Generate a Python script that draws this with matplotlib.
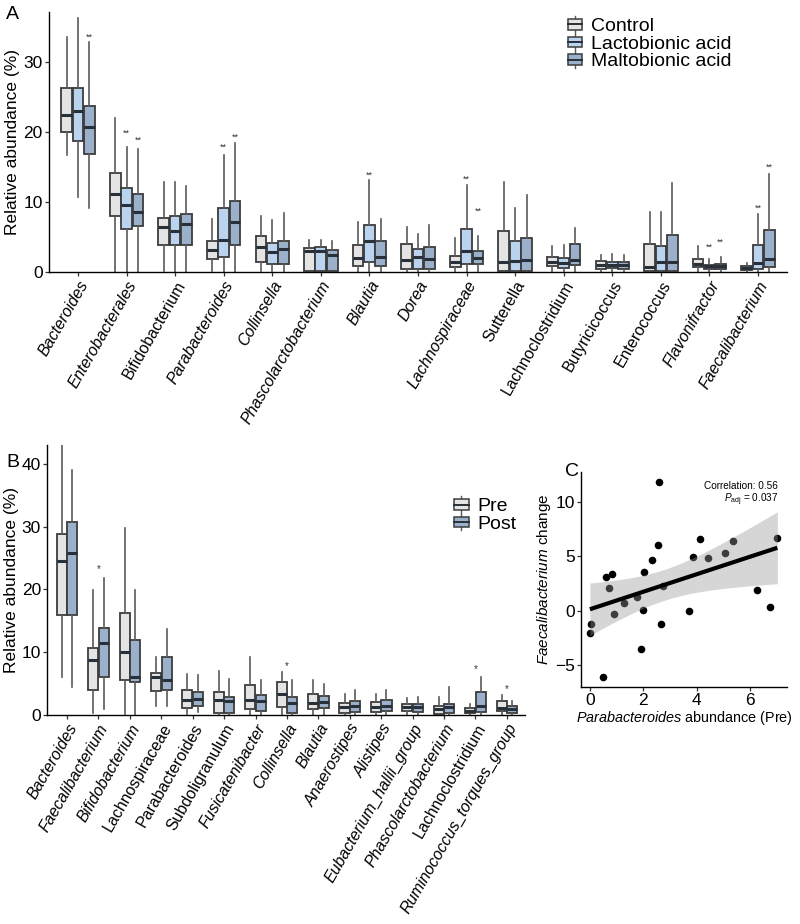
import matplotlib
matplotlib.use('Agg')
import matplotlib.pyplot as plt
import numpy as np
from matplotlib.patches import Patch, Rectangle
from matplotlib.lines import Line2D
from matplotlib.legend_handler import HandlerBase

plt.rcParams['font.family'] = ['Liberation Sans', 'DejaVu Sans']
plt.rcParams['mathtext.fontset'] = 'custom'
plt.rcParams['mathtext.rm'] = 'Liberation Sans'
plt.rcParams['mathtext.it'] = 'Liberation Sans:italic'

# ---------------- Panel A data ----------------
cats_A = ['Bacteroides', 'Enterobacterales', 'Bifidobacterium', 'Parabacteroides', 'Collinsella',
          'Phascolarctobacterium', 'Blautia', 'Dorea', 'Lachnospiraceae', 'Sutterella',
          'Lachnoclostridium', 'Butyricicoccus', 'Enterococcus', 'Flavonifractor', 'Faecalibacterium']
upright_A = {'Bifidobacterium', 'Sutterella', 'Lachnoclostridium', 'Butyricicoccus', 'Enterococcus'}
groups_A = ['Control', 'Lactobionic acid', 'Maltobionic acid']

ctrl_low  = [16.7, 0.0, 0.2, 0.2, 0.2, 0.2, 0.0, 0.0, 0.0, 0.0, 0.0, 0.0, 0.0, 0.0, 0.0]
ctrl_q1   = [20.0, 8.0, 3.8, 1.9, 1.5, 0.2, 0.9, 0.5, 0.7, 0.1, 0.9, 0.5, 0.1, 0.7, 0.3]
ctrl_med  = [22.4, 11.2, 6.4, 3.2, 3.6, 3.0, 2.0, 1.7, 1.4, 1.5, 1.4, 1.0, 0.7, 1.2, 0.6]
ctrl_q3   = [26.3, 14.1, 7.8, 4.4, 5.1, 3.5, 3.8, 4.0, 2.3, 5.9, 2.1, 1.6, 4.0, 1.9, 0.8]
ctrl_high = [33.6, 22.1, 12.9, 7.6, 8.0, 4.6, 7.2, 6.5, 4.8, 12.9, 3.7, 2.4, 8.6, 3.7, 1.3]

lacto_low  = [10.7, 0.0, 0.0, 0.0, 0.2, 0.1, 0.0, 0.0, 0.0, 0.0, 0.0, 0.0, 0.0, 0.0, 0.0]
lacto_q1   = [18.8, 6.2, 3.9, 2.1, 1.1, 0.1, 1.5, 0.5, 1.2, 0.1, 0.6, 0.6, 0.1, 0.5, 0.5]
lacto_med  = [23.0, 9.6, 5.8, 4.6, 2.9, 3.0, 4.5, 2.2, 3.0, 1.6, 1.3, 1.0, 1.4, 0.8, 1.3]
lacto_q3   = [26.3, 12.0, 8.0, 9.1, 4.1, 3.6, 6.7, 3.3, 6.1, 4.5, 2.0, 1.5, 3.7, 1.0, 3.8]
lacto_high = [36.4, 17.9, 12.9, 16.7, 7.4, 4.6, 13.2, 5.5, 12.5, 9.2, 3.8, 2.6, 8.6, 1.8, 8.3]

malto_low  = [9.2, 0.0, 0.0, 0.0, 0.0, 0.2, 0.0, 0.0, 0.0, 0.0, 0.0, 0.0, 0.0, 0.0, 0.0]
malto_q1   = [16.9, 6.6, 3.8, 3.8, 1.1, 0.2, 0.9, 0.4, 1.2, 0.1, 1.0, 0.5, 0.1, 0.5, 0.7]
malto_med  = [20.7, 8.6, 6.9, 7.2, 3.3, 2.4, 2.2, 1.9, 2.0, 1.7, 1.7, 1.0, 1.4, 0.9, 1.9]
malto_q3   = [23.8, 11.1, 8.3, 10.1, 4.5, 3.2, 4.4, 3.6, 3.0, 4.9, 4.0, 1.5, 5.3, 1.2, 6.0]
malto_high = [32.9, 17.6, 12.3, 18.4, 8.4, 4.4, 7.6, 6.7, 5.1, 11.0, 6.3, 2.4, 12.8, 2.2, 14.0]

nan = np.nan
sig_lacto_y = [nan, 19.9, nan, 17.9, nan, nan, 13.9, nan, 13.3, nan, nan, nan, nan, 3.5, 9.1]
sig_malto_y = [33.6, 18.9, nan, 19.3, nan, nan, nan, nan, 8.7, nan, nan, nan, nan, 4.3, 15.0]

# ---------------- Panel B data ----------------
cats_B = ['Bacteroides', 'Faecalibacterium', 'Bifidobacterium', 'Lachnospiraceae', 'Parabacteroides',
          'Subdoligranulum', 'Fusicatenibacter', 'Collinsella', 'Blautia', 'Anaerostipes', 'Alistipes',
          'Eubacterium_hallii_group', 'Phascolarctobacterium', 'Lachnoclostridium',
          'Ruminococcus_torques_group']
upright_B = {'Lachnospiraceae', 'Parabacteroides', 'Subdoligranulum', 'Lachnoclostridium'}
groups_B = ['Pre', 'Post']

pre_low  = [6.0, 0.3, 0.2, 1.5, 0.2, 0.0, 0.0, 0.0, 0.0, 0.0, 0.0, 0.0, 0.0, 0.0, 0.0]
pre_q1   = [16.0, 4.0, 5.6, 3.9, 1.1, 0.3, 0.9, 1.2, 0.9, 0.3, 0.5, 0.6, 0.1, 0.3, 0.6]
pre_med  = [24.5, 8.8, 10.1, 6.0, 2.4, 2.4, 2.4, 3.4, 1.9, 1.2, 1.2, 1.3, 1.0, 0.7, 1.1]
pre_q3   = [28.9, 10.7, 16.2, 6.7, 4.0, 3.7, 4.8, 5.3, 3.4, 1.9, 2.0, 1.8, 1.5, 1.1, 2.3]
pre_high = [44.0, 19.9, 29.8, 9.2, 6.5, 7.0, 9.2, 6.9, 5.5, 3.3, 3.3, 2.7, 2.9, 1.7, 3.2]

post_low  = [4.4, 0.9, 0.0, 1.5, 0.5, 0.0, 0.0, 0.0, 0.0, 0.0, 0.0, 0.0, 0.0, 0.0, 0.0]
post_q1   = [16.0, 6.0, 5.2, 4.0, 1.5, 0.3, 0.7, 0.3, 1.1, 0.5, 0.7, 0.5, 0.3, 0.5, 0.3]
post_med  = [25.8, 11.4, 6.0, 5.6, 2.6, 2.2, 2.3, 1.9, 2.1, 1.5, 1.5, 1.3, 1.2, 1.5, 1.0]
post_q3   = [30.7, 13.9, 12.0, 9.2, 3.7, 2.8, 3.2, 2.9, 3.1, 2.2, 2.4, 1.8, 1.7, 3.7, 1.5]
post_high = [39.0, 21.8, 19.9, 13.7, 6.3, 5.8, 5.5, 5.5, 5.0, 4.0, 4.0, 2.8, 4.5, 6.0, 2.3]

sig_B_y = [nan, 23.2, nan, nan, nan, nan, nan, 7.8, nan, nan, nan, nan, nan, 7.3, 4.2]

# ---------------- Panel C data ----------------
para_pre = [0.00, 0.04, 0.50, 0.60, 0.81, 0.73, 0.89, 1.26, 1.78, 1.93, 2.00, 2.04, 2.33,
            2.53, 2.58, 2.66, 2.75, 3.71, 3.85, 4.10, 4.40, 5.05, 5.35, 6.25, 6.73, 7.01]
faec_change = [-2.06, -1.20, -6.10, 3.13, 3.34, 2.09, -0.31, 0.74, 1.29, -3.53, 0.06, 3.59, 4.66,
               6.04, 11.87, -1.17, 2.24, 0.00, 4.91, 6.56, 4.85, 5.28, 6.44, 1.90, 0.37, 6.69]
corr_text = 'Correlation: 0.56'
padj_text = r'$\mathit{P}_{\mathrm{adj}}$ = 0.037'

# ---------------- styling ----------------
col_ctrl = '#E4E4E4'
col_lacto = '#BAD3EE'
col_malto = '#9BB0CA'
edge_col = '#3c3c3c'
med_col = '#28303a'
whisk_col = '#5a5a5a'


def draw_boxes(ax, positions, low, q1, med, q3, high, color, width):
    stats = [dict(whislo=a, q1=b, med=c, q3=d, whishi=e, fliers=[])
             for a, b, c, d, e in zip(low, q1, med, q3, high)]
    ax.bxp(stats, positions=positions, widths=width, patch_artist=True,
           showfliers=False, showcaps=False, manage_ticks=False,
           boxprops=dict(facecolor=color, edgecolor=edge_col, linewidth=1.3),
           medianprops=dict(color=med_col, linewidth=2.2, solid_capstyle='butt'),
           whiskerprops=dict(color=whisk_col, linewidth=1.2))


class BoxKeyHandler(HandlerBase):
    def create_artists(self, legend, orig_handle, xdescent, ydescent, width, height, fontsize, trans):
        x0, y0 = -xdescent, -ydescent
        fc = orig_handle.get_facecolor()
        bx = x0 + width * 0.05
        bw = width * 0.9
        rect = Rectangle((bx, y0 + height * 0.12), bw, height * 0.76, facecolor=fc,
                         edgecolor=edge_col, linewidth=1.1, transform=trans)
        xm = x0 + width / 2
        med = Line2D([bx, bx + bw], [y0 + height * 0.5] * 2, color=med_col, lw=1.4, transform=trans)
        w1 = Line2D([xm, xm], [y0 - height * 0.1, y0 + height * 0.12], color=whisk_col, lw=1.0, transform=trans)
        w2 = Line2D([xm, xm], [y0 + height * 0.88, y0 + height * 1.1], color=whisk_col, lw=1.0, transform=trans)
        return [w1, w2, rect, med]


def style_axes(ax):
    for s in ['top', 'right']:
        ax.spines[s].set_visible(False)
    for s in ['left', 'bottom']:
        ax.spines[s].set_linewidth(1.0)
        ax.spines[s].set_color('black')
    ax.tick_params(axis='both', direction='out', length=3, width=0.9, pad=1.5,
                   color='#333333', labelcolor='black')


fig = plt.figure(figsize=(8.0, 9.24), dpi=100)

# ---------------- Panel A ----------------
axA = fig.add_axes([0.061, 0.7056, 0.923, 0.2814])
nA = len(cats_A)
xA = np.arange(nA)
offA = 0.234
wA = 0.22
draw_boxes(axA, xA - offA, ctrl_low, ctrl_q1, ctrl_med, ctrl_q3, ctrl_high, col_ctrl, wA)
draw_boxes(axA, xA, lacto_low, lacto_q1, lacto_med, lacto_q3, lacto_high, col_lacto, wA)
draw_boxes(axA, xA + offA, malto_low, malto_q1, malto_med, malto_q3, malto_high, col_malto, wA)
for i in range(nA):
    if not np.isnan(sig_lacto_y[i]):
        axA.text(xA[i], sig_lacto_y[i], '**', ha='center', va='center', fontsize=6.5, color='#333333')
    if not np.isnan(sig_malto_y[i]):
        axA.text(xA[i] + offA, sig_malto_y[i], '**', ha='center', va='center', fontsize=6.5, color='#333333')
axA.set_xlim(-0.6, nA - 0.4)
axA.set_ylim(0, 37.2)
axA.set_yticks([0, 10, 20, 30])
axA.set_xticks(xA)
axA.set_xticklabels(cats_A, rotation=60, ha='right', rotation_mode='anchor', fontsize=11.5)
for lbl in axA.get_xticklabels():
    lbl.set_style('normal' if lbl.get_text() in upright_A else 'italic')
style_axes(axA)
axA.tick_params(axis='y', labelsize=12.5)
axA.set_ylabel('Relative abundance (%)', fontsize=12.5, labelpad=2)
hA = [Patch(facecolor=c) for c in (col_ctrl, col_lacto, col_malto)]
axA.legend(hA, groups_A, handler_map={Patch: BoxKeyHandler()}, loc='upper left',
           bbox_to_anchor=(0.683, 1.031), frameon=False, fontsize=14, labelspacing=0.0,
           handlelength=0.85, handleheight=0.7, handletextpad=0.4, borderpad=0.2)

# ---------------- Panel B ----------------
axB = fig.add_axes([0.059, 0.2262, 0.597, 0.2922])
nB = len(cats_B)
xB = np.arange(nB)
offB = 0.168
wB = 0.32
draw_boxes(axB, xB - offB, pre_low, pre_q1, pre_med, pre_q3, pre_high, col_ctrl, wB)
draw_boxes(axB, xB + offB, post_low, post_q1, post_med, post_q3, post_high, col_malto, wB)
for i in range(nB):
    if not np.isnan(sig_B_y[i]):
        axB.text(xB[i], sig_B_y[i], '*', ha='center', va='center', fontsize=7, color='#333333')
axB.set_xlim(-0.63, nB - 0.43)
axB.set_ylim(0, 43.0)
axB.set_yticks([0, 10, 20, 30, 40])
axB.set_xticks(xB)
axB.set_xticklabels(cats_B, rotation=60, ha='right', rotation_mode='anchor', fontsize=11.5)
for lbl in axB.get_xticklabels():
    lbl.set_style('normal' if lbl.get_text() in upright_B else 'italic')
style_axes(axB)
axB.tick_params(axis='y', labelsize=12.5)
axB.set_ylabel('Relative abundance (%)', fontsize=12.5, labelpad=2)
hB = [Patch(facecolor=c) for c in (col_ctrl, col_malto)]
axB.legend(hB, groups_B, handler_map={Patch: BoxKeyHandler()}, loc='upper left',
           bbox_to_anchor=(0.821, 0.855), frameon=False, fontsize=14, labelspacing=0.0,
           handlelength=0.85, handleheight=0.7, handletextpad=0.4, borderpad=0.2)

# ---------------- Panel C ----------------
axC = fig.add_axes([0.726, 0.2568, 0.258, 0.2321])
xc = np.asarray(para_pre)
yc = np.asarray(faec_change)
axC.scatter(xc, yc, s=30, color='black', zorder=2, linewidths=0)
slope, intercept = np.polyfit(xc, yc, 1)
xs = np.linspace(xc.min(), xc.max(), 100)
ys = slope * xs + intercept
resid = yc - (slope * xc + intercept)
n = len(xc)
se_res = np.sqrt(np.sum(resid ** 2) / (n - 2))
sxx = np.sum((xc - xc.mean()) ** 2)
se_fit = se_res * np.sqrt(1.0 / n + (xs - xc.mean()) ** 2 / sxx)
tcrit = 2.064
axC.fill_between(xs, ys - tcrit * se_fit, ys + tcrit * se_fit, color='#999999', alpha=0.4,
                 linewidth=0, zorder=3)
axC.plot(xs, ys, color='black', lw=3.0, zorder=4, solid_capstyle='butt')
axC.set_xlim(-0.34, 7.38)
axC.set_ylim(-6.97, 12.73)
axC.set_xticks([0, 2, 4, 6])
axC.set_yticks([-5, 0, 5, 10])
style_axes(axC)
axC.tick_params(axis='both', labelsize=12.5)
axC.set_xlabel(r'$\mathit{Parabacteroides}$ abundance (Pre)', fontsize=10.4, labelpad=1)
axC.set_ylabel(r'$\mathit{Faecalibacterium}$ change', fontsize=11, labelpad=1)
axC.text(0.955, 0.9375, corr_text, transform=axC.transAxes, ha='right', va='center', fontsize=7.2)
axC.text(0.955, 0.871, padj_text, transform=axC.transAxes, ha='right', va='center', fontsize=7.2)

# panel letters
fig.text(0.008, 0.984, 'A', fontsize=14, ha='left', va='center')
fig.text(0.008, 0.499, 'B', fontsize=14, ha='left', va='center')
fig.text(0.706, 0.490, 'C', fontsize=14, ha='left', va='center')

fig.savefig('out.png', dpi=100)
